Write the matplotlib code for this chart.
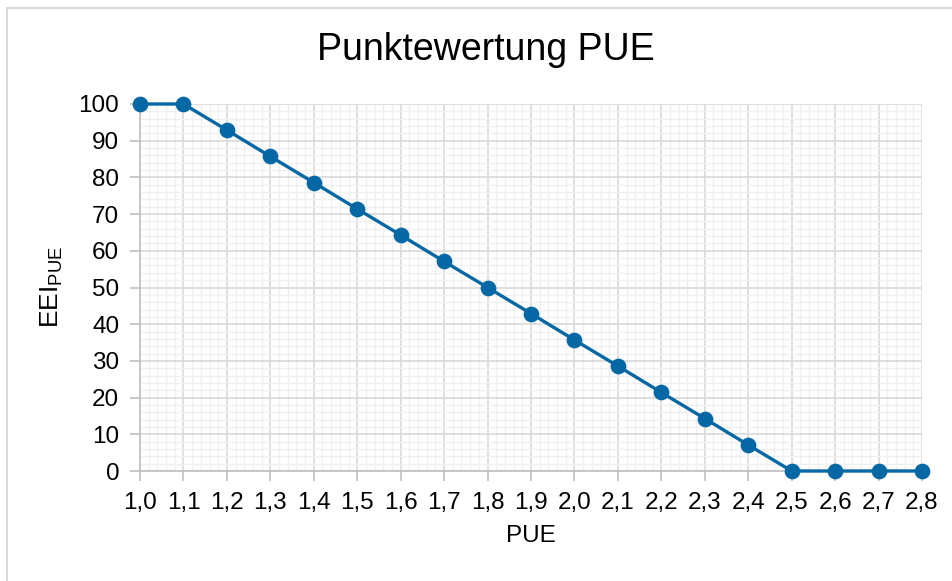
import numpy as np
import matplotlib
matplotlib.use("Agg")
from matplotlib import pyplot as plt
from matplotlib.patches import Rectangle
from matplotlib.ticker import MultipleLocator, FixedLocator

plt.rcParams['font.family'] = ['Liberation Sans', 'DejaVu Sans']
plt.rcParams['mathtext.fontset'] = 'custom'
plt.rcParams['mathtext.rm'] = 'Liberation Sans'
plt.rcParams['mathtext.it'] = 'Liberation Sans'

# Daten
pue = [1.0, 1.1, 1.2, 1.3, 1.4, 1.5, 1.6, 1.7, 1.8, 1.9,
       2.0, 2.1, 2.2, 2.3, 2.4, 2.5, 2.6, 2.7, 2.8]
eei = [100, 100, 92.9, 85.7, 78.6, 71.4, 64.3, 57.1, 50.0, 42.9,
       35.7, 28.6, 21.4, 14.3, 7.1, 0, 0, 0, 0]
x_labels = ["1,0", "1,1", "1,2", "1,3", "1,4", "1,5", "1,6", "1,7", "1,8", "1,9",
            "2,0", "2,1", "2,2", "2,3", "2,4", "2,5", "2,6", "2,7", "2,8"]
y_ticks = [0, 10, 20, 30, 40, 50, 60, 70, 80, 90, 100]

W, H = 953, 581
fig = plt.figure(figsize=(W / 100, H / 100), dpi=100)
ax = fig.add_axes([140 / W, 1 - 471 / H, (922 - 140) / W, (471 - 104) / H])

blue = "#0567a3"
ax.plot(pue, eei, color=blue, lw=2.4, marker="o", markersize=10.3,
        clip_on=False, zorder=5)

ax.set_xlim(1.0, 2.8)
ax.set_ylim(0, 100)
ax.xaxis.set_major_locator(FixedLocator(pue))
ax.set_xticklabels(x_labels)
ax.xaxis.set_minor_locator(MultipleLocator(0.02))
ax.yaxis.set_major_locator(FixedLocator(y_ticks))
ax.yaxis.set_minor_locator(MultipleLocator(2))

ax.grid(which="minor", color="#f0f0f0", lw=1.0)
ax.grid(which="major", color="#d9d9d9", lw=1.2)
ax.set_axisbelow(True)

for s in ["top", "right"]:
    ax.spines[s].set_visible(False)
for s in ["left", "bottom"]:
    ax.spines[s].set_color("#bfbfbf")
    ax.spines[s].set_linewidth(1.2)

ax.tick_params(which="major", length=7, width=1.2, color="#bfbfbf",
               labelsize=17.5, labelcolor="black", pad=8)
ax.tick_params(which="minor", length=0)

ax.set_xlabel("PUE", fontsize=17.5, labelpad=8)
ax.set_ylabel(r"EEI$_{\mathrm{PUE}}$", fontsize=19, labelpad=10)
fig.text(486 / W, 1 - 50 / H, "Punktewertung PUE", fontsize=27,
         ha="center", va="center")

fig.patches.append(Rectangle((7 / W, -0.05), 1.1, 1 - 8 / H + 0.05,
                             transform=fig.transFigure, fill=False,
                             edgecolor="#d9d9d9", lw=1.5))

fig.savefig("out.png", dpi=100)
